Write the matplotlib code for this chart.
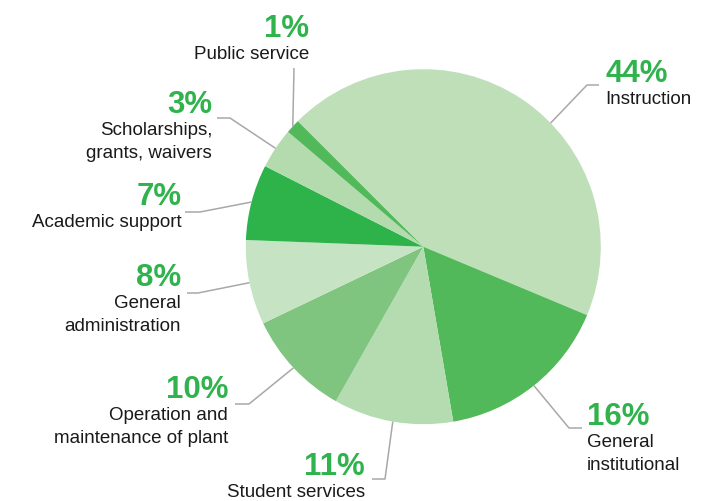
import numpy as np
import matplotlib.pyplot as plt

plt.rcParams['font.family'] = ['Liberation Sans', 'DejaVu Sans']

# spending shares, clockwise from the top
categories = ['Instruction', 'General\ninstitutional', 'Student services',
              'Operation and\nmaintenance of plant', 'General\nadministration',
              'Academic support', 'Scholarships,\ngrants, waivers', 'Public service']
shares = [43.8, 16.0, 10.9, 9.7, 7.7, 6.9, 3.7, 1.3]
pct_labels = ['44%', '16%', '11%', '10%', '8%', '7%', '3%', '1%']
colors = ['#bfdfb9', '#52b95a', '#b4dcb0', '#80c57f', '#c6e4c3', '#2eb34b', '#b3dbae', '#52b95a']

W, H = 719, 501
cx, cy, R = 423.3, 246.7, 177.5   # pie centre / radius in image pixels

# label layout in image pixels: (text x, percent baseline y, align), elbow, end of leader
text_pos = [(605, 82, 'left'), (587, 425, 'left'), (365, 475, 'right'), (228, 398, 'right'),
            (181, 286, 'right'), (182, 205, 'right'), (212, 113, 'right'), (309, 37, 'right')]
elbows = [(587, 85), (569, 428), (385, 479), (249, 404), (198, 293), (200, 212), (230, 118), (294, 68)]
ends = [(599, 85), (582, 428), (372, 479), (235, 404), (187, 293), (185, 212), (217, 118), (294, 68)]
angle_shift = [-12, 0, 0, 0, 0, 0, 0, 0]

fig = plt.figure(figsize=(W / 100, H / 100), dpi=100)
ax = fig.add_axes([0, 0, 1, 1])

wedges, _ = ax.pie(shares, colors=colors, startangle=135, counterclock=False,
                   center=(cx, H - cy), radius=R, wedgeprops=dict(linewidth=0))
ax.set_xlim(0, W)
ax.set_ylim(0, H)
ax.set_aspect('equal')
ax.axis('off')

green = '#30b34c'
line_col = '#a8a8a8'
for i, w in enumerate(wedges):
    ang = np.deg2rad((w.theta1 + w.theta2) / 2 + angle_shift[i])
    sx = cx + R * np.cos(ang)
    sy = H - cy + R * np.sin(ang)
    ex, ey = elbows[i]
    tx, ty = ends[i]
    ax.plot([sx, ex, tx], [sy, H - ey, H - ty], color=line_col, lw=1.1,
            solid_capstyle='butt', zorder=1)

    x, base, ha = text_pos[i]
    ax.text(x, H - base, pct_labels[i], ha=ha, va='baseline', fontsize=22.5,
            fontweight='bold', color=green)
    for j, line in enumerate(categories[i].split('\n')):
        ax.text(x, H - (base + 22 + 23 * j), line, ha=ha, va='baseline',
                fontsize=13.5, color='#1a1a1a')

fig.savefig('out.png', dpi=100)
